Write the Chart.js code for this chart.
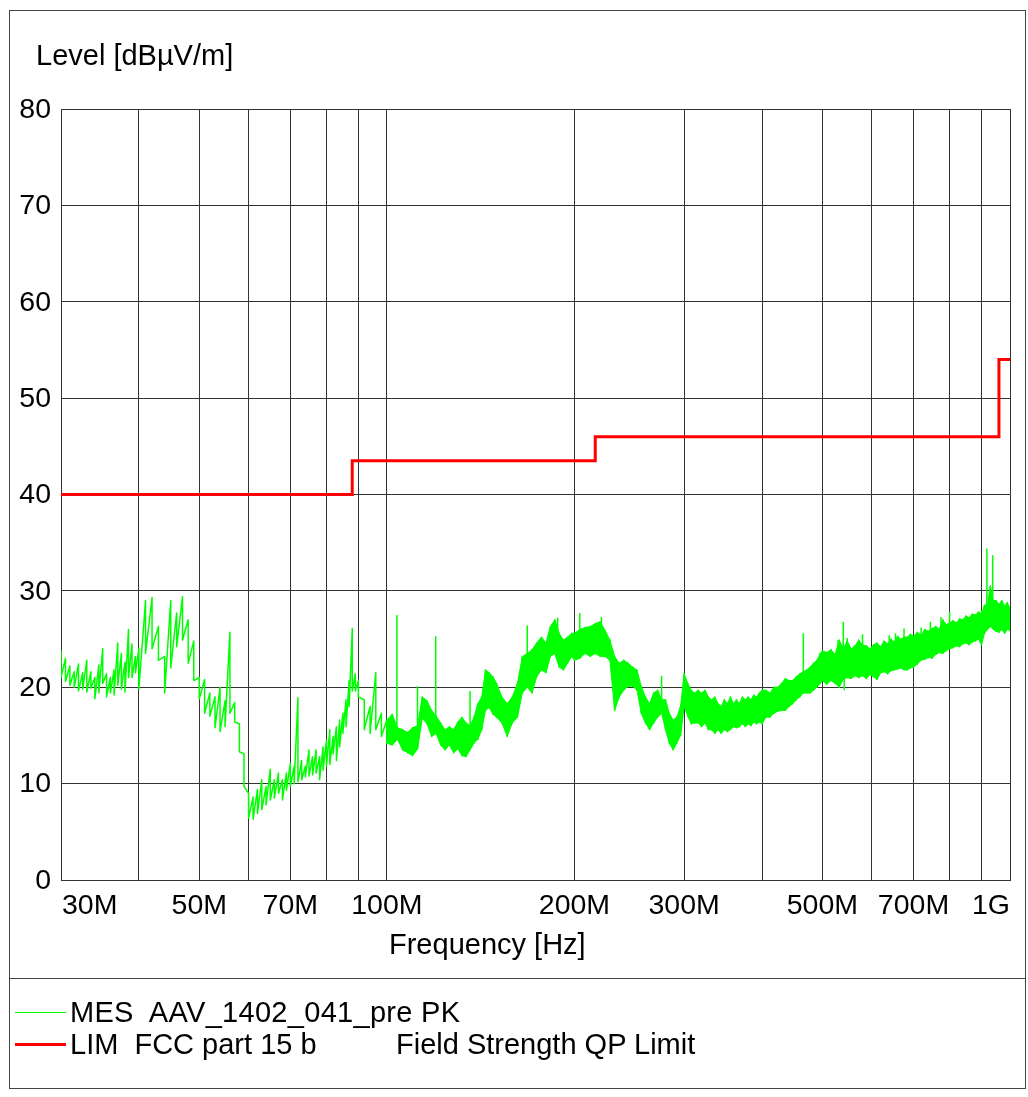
<!DOCTYPE html>
<html>
<head>
<meta charset="utf-8">
<script src="https://cdn.jsdelivr.net/npm/chart.js@4.4.1/dist/chart.umd.min.js"></script>
<style>
  body { margin: 0; background: #fff; font-family: "Liberation Sans", Arial, sans-serif; }
  #wrap { position: relative; width: 1028px; height: 1097px; }
  #frame { position: absolute; left: 9px; top: 10px; width: 1015px; height: 1077px; border: 1px solid #444; }
  #sep { position: absolute; left: 9px; top: 978px; width: 1017px; height: 1px; background: #444; }
  .txt { position: absolute; font-size: 29px; line-height: 28px; color: #000; white-space: pre; }
  .key { position: absolute; left: 15px; width: 51px; }
  canvas { position: absolute; left: 0; top: 0; }
</style>
</head>
<body>
<div id="wrap">
  <div id="frame"></div>
  <div id="sep"></div>
  <canvas id="emcChart" width="1028" height="1097"></canvas>
  <div class="txt" style="left:36px; top:41px;">Level [dBµV/m]</div>
  <div class="txt" style="left:389px; top:930px;">Frequency [Hz]</div>
  <div class="key" style="top:1012px; height:1px; background:#00ff00;"></div>
  <div class="txt" style="left:70px; top:998px; letter-spacing:0.3px;">MES  AAV_1402_041_pre PK</div>
  <div class="key" style="top:1043px; height:3px; background:#ff0000;"></div>
  <div class="txt" style="left:70px; top:1030px;">LIM  FCC part 15 b</div>
  <div class="txt" style="left:396px; top:1030px;">Field Strength QP Limit</div>
</div>
<script>
// Axis ticks / grid
const gridFreqs = [30, 40, 50, 60, 70, 80, 90, 100, 200, 300, 400, 500, 600, 700, 800, 900, 1000];
const xTickValues = [30, 50, 70, 100, 200, 300, 500, 700, 1000];
const xTickLabels = ['30M', '50M', '70M', '100M', '200M', '300M', '500M', '700M', '1G'];
const yTickValues = [0, 10, 20, 30, 40, 50, 60, 70, 80];

// Limit line (MHz, dBuV/m)
const limFreq = [30, 88, 88, 216, 216, 960, 960, 1000];
const limLevel = [40, 40, 43.5, 43.5, 46, 46, 54, 54];

const mesFreq = [
  30, 30.5, 31, 31.5, 32, 32.5, 33, 33.5, 34, 34.5, 35, 35.5, 36, 36.5, 37, 37.5, 38, 38.5, 39, 39.5, 40,
  41, 42, 43, 44, 45, 46, 47, 48, 49, 50, 51, 52, 53, 54, 55, 56, 57, 58, 59, 60,
  61, 62, 63, 64, 65, 66, 67, 68, 69, 70, 71, 72, 73, 74, 75, 76, 77, 78, 79, 80, 81, 82, 83, 84, 85, 86, 87, 88, 89, 90,
  92, 94, 96, 98, 100,
  102, 104, 106, 108, 110, 112, 114, 116, 118, 120, 122, 124, 126, 128, 130, 132, 134, 136, 138, 140, 142, 144, 146, 148, 150,
  153, 156, 159, 162, 165, 168, 171, 174, 177, 180, 183, 186, 189, 192, 195, 198,
  200, 204, 208, 212, 216, 220, 224, 228, 232, 236, 240, 244, 248, 252, 256, 260, 264, 268, 272, 276, 280, 284, 288, 292, 296, 300,
  304, 308, 312, 316, 320, 324, 328, 332, 336, 340, 344, 348, 352, 356, 360, 364, 368, 372, 376, 380, 384, 388, 392, 396, 400,
  406, 412, 418, 424, 430, 436, 442, 448, 454, 460, 466, 472, 478, 484, 490, 496, 500,
  508, 516, 524, 532, 540, 548, 556, 564, 572, 580, 588, 596, 604, 612, 620, 628, 636, 644, 652, 660, 668, 676, 684, 692, 700,
  710, 720, 730, 740, 750, 760, 770, 780, 790, 800, 810, 820, 830, 840, 850, 860, 870, 880, 890, 900, 910, 920, 930, 940, 950, 960, 970, 980, 990, 1000
];
const mesMax = [
  23.8, 23.0, 22.2, 21.6, 22.4, 21.5, 22.8, 21.6, 21.0, 22.3, 24.0, 21.4, 21.0, 21.8, 24.6, 23.5, 22.6, 26.0, 24.5, 23.2, 24.0,
  29.0, 29.3, 26.3, 23.2, 29.0, 27.7, 29.4, 27.0, 24.8, 21.0, 20.8, 19.4, 19.0, 20.0, 18.6, 25.7, 18.4, 16.2, 13.1, 9.0,
  8.6, 9.4, 10.4, 9.7, 11.5, 10.4, 11.1, 10.4, 11.1, 12.1, 11.8, 18.9, 12.4, 11.8, 13.5, 12.8, 13.5, 12.8, 13.8, 14.5, 15.6, 14.9, 15.9, 16.6, 17.3, 18.7, 20.7, 26.1, 21.4, 20.7,
  18.7, 18.0, 21.5, 17.3, 16.6,
  17.2, 15.8, 15.6, 15.3, 15.8, 16.0, 19.0, 18.6, 17.6, 17.0, 16.3, 15.6, 15.9, 15.6, 16.4, 16.9, 16.3, 16.0, 16.9, 18.3, 19.0, 21.8, 21.5, 21.1, 20.4,
  19.0, 18.3, 19.0, 20.4, 23.2, 23.5, 23.9, 24.6, 25.2, 24.6, 26.3, 27.0, 25.6, 24.9, 25.2, 25.6,
  25.6, 26.0, 26.2, 26.3, 26.6, 26.8, 25.9, 24.9, 23.2, 22.5, 22.8, 22.5, 22.1, 21.8, 20.1, 19.0, 18.3, 19.4, 19.7, 18.7, 18.7, 17.3, 16.6, 16.9, 18.0, 21.4,
  20.4, 19.7, 19.4, 19.7, 19.4, 19.7, 19.0, 18.7, 19.0, 18.3, 18.0, 18.7, 18.3, 19.0, 18.3, 18.7, 18.3, 19.0, 18.7, 19.0, 18.7, 19.2, 19.0, 19.4, 19.7,
  19.7, 19.4, 20.0, 20.0, 20.4, 20.9, 20.7, 20.7, 21.1, 21.4, 21.6, 21.8, 22.1, 22.5, 22.8, 23.5, 23.8,
  23.6, 23.9, 23.4, 24.9, 24.0, 24.8, 24.0, 24.3, 24.9, 24.4, 24.3, 24.0, 24.4, 24.6, 24.2, 24.8, 24.5, 25.0, 24.7, 25.3, 25.0, 25.2, 25.2, 25.5, 25.3,
  25.7, 25.4, 26.0, 25.8, 26.1, 26.3, 26.0, 27.0, 26.5, 26.7, 26.9, 26.7, 27.1, 27.0, 27.4, 27.2, 27.6, 27.5, 27.8, 27.6, 28.5, 28.6, 30.5, 29.0, 29.0, 28.6, 29.0, 28.4, 28.8, 28.2
];
const mesMin = [
  21.0, 20.6, 20.2, 20.0, 19.6, 19.8, 19.5, 19.9, 18.8, 19.4, 20.4, 19.0, 19.4, 19.2, 20.2, 19.8, 19.5, 21.0, 21.0, 21.5, 19.8,
  23.5, 24.0, 22.8, 19.4, 22.0, 24.2, 24.9, 22.5, 20.7, 18.8, 17.3, 17.0, 15.8, 15.4, 15.9, 17.3, 16.4, 13.3, 9.7, 6.4,
  6.3, 6.9, 7.3, 7.8, 8.3, 8.5, 9.0, 8.3, 9.3, 9.7, 10.0, 10.2, 10.4, 10.7, 10.8, 10.9, 11.1, 10.4, 11.4, 11.8, 12.0, 13.1, 12.4, 13.8, 15.2, 15.9, 18.0, 19.6, 19.6, 19.0,
  15.6, 15.2, 15.6, 14.9, 14.2,
  14.0, 14.6, 13.5, 13.2, 12.9, 13.6, 16.8, 16.2, 14.9, 15.2, 14.0, 13.5, 14.0, 13.2, 13.6, 12.9, 12.8, 13.5, 14.2, 14.6, 15.6, 17.6, 17.9, 17.2, 16.9,
  16.3, 14.9, 16.3, 16.9, 19.4, 20.0, 19.4, 21.1, 21.8, 21.5, 23.2, 23.5, 22.1, 21.8, 22.5, 23.2,
  22.8, 23.0, 23.5, 23.2, 23.5, 23.2, 23.2, 22.8, 17.6, 19.0, 19.7, 20.1, 20.1, 19.7, 17.3, 16.3, 15.6, 16.3, 16.9, 17.3, 15.6, 14.2, 13.5, 14.2, 15.0, 18.0,
  17.0, 16.2, 16.3, 16.3, 15.9, 16.3, 15.6, 15.6, 15.2, 15.6, 15.2, 15.6, 15.4, 15.6, 15.9, 15.8, 15.9, 16.2, 15.9, 16.2, 16.0, 16.4, 16.2, 16.4, 16.2,
  16.9, 16.9, 17.3, 17.5, 17.6, 17.6, 18.0, 18.3, 18.7, 19.0, 19.4, 19.4, 19.4, 19.7, 20.0, 20.4, 20.7,
  20.3, 20.7, 20.4, 20.0, 20.8, 21.0, 20.9, 21.2, 21.0, 21.2, 20.9, 21.3, 21.1, 20.8, 21.5, 21.6, 21.4, 21.7, 21.8, 21.9, 22.0, 21.8, 21.8, 22.0, 22.1,
  22.4, 22.8, 22.9, 23.1, 23.0, 23.4, 23.6, 23.5, 23.8, 24.0, 24.1, 24.3, 24.2, 24.5, 24.6, 24.4, 24.7, 24.8, 25.0, 24.4, 25.6, 26.0, 26.3, 26.0, 25.8, 25.7, 26.0, 25.6, 26.0, 25.9
];

// Narrow single-line spikes off the dense band (MHz, start level, tip level)
const spikeFreq = [103.8, 112, 119.8, 136, 168, 188, 204, 221, 276, 436, 466, 530, 540, 542, 548, 580, 640, 655, 676, 720, 745, 775, 800, 900, 918, 938];
const spikeBase = [15.0, 15.5, 16.0, 15.5, 22.5, 25.0, 25.5, 26.0, 18.0, 19.5, 20.5, 23.5, 23.5, 21.0, 24.0, 23.5, 24.5, 24.5, 24.5, 25.0, 25.5, 26.0, 26.5, 27.0, 27.0, 27.5];
const spikeTop = [27.5, 20.1, 25.3, 19.6, 26.4, 27.2, 27.7, 27.3, 21.2, 20.9, 25.6, 24.9, 26.8, 19.7, 25.1, 25.5, 25.4, 25.6, 26.1, 26.2, 26.8, 27.3, 27.8, 28.0, 34.4, 33.7];

// above this frequency the trace is so dense it reads as a solid band
const bandStart = 100;

// zigzag max -> min at every frequency gives the noisy receiver trace
const mesPoints = [];
mesFreq.forEach((f, i) => {
    mesPoints.push({ x: f, y: mesMax[i] }, { x: f, y: mesMin[i] });
});
const bandTop = [], bandBottom = [];
mesFreq.forEach((f, i) => {
    if (f >= bandStart) {
        bandTop.push({ x: f, y: mesMax[i] });
        bandBottom.push({ x: f, y: mesMin[i] });
    }
});
const spikePoints = [];
spikeFreq.forEach((f, i) => {
    spikePoints.push({ x: f, y: spikeBase[i] }, { x: f, y: spikeTop[i] }, { x: f, y: null });
});
const limPoints = limFreq.map((f, i) => ({ x: f, y: limLevel[i] }));

const FONT = '"Liberation Sans", Arial, sans-serif';
const GREEN = '#00ff00';

// tick labels drawn from the scales (first label left aligned, last right aligned)
const tickLabelPlugin = {
    id: 'tickLabels',
    afterDraw(chart) {
        const { ctx, scales: { x, y } } = chart;
        ctx.save();
        ctx.fillStyle = '#000';
        ctx.font = '28.5px ' + FONT;
        ctx.textBaseline = 'middle';
        ctx.textAlign = 'right';
        yTickValues.forEach(v => ctx.fillText(String(v), x.left - 10, y.getPixelForValue(v) + 1));
        xTickValues.forEach((v, i) => {
            const last = xTickValues.length - 1;
            ctx.textAlign = i === 0 ? 'left' : (i === last ? 'right' : 'center');
            ctx.fillText(xTickLabels[i], x.getPixelForValue(v) + (i === 0 ? 1 : 0), y.bottom + 26);
        });
        ctx.restore();
    }
};

const gridStyle = { color: '#333', lineWidth: 1, drawTicks: false };

new Chart(document.getElementById('emcChart'), {
    type: 'line',
    data: {
        datasets: [{
            label: 'LIM  FCC part 15 b',
            data: limPoints,
            borderColor: '#ff0000',
            borderWidth: 3,
            pointRadius: 0,
            fill: false,
            tension: 0,
            order: 0
        }, {
            label: 'MES  AAV_1402_041_pre PK',
            data: mesPoints,
            borderColor: GREEN,
            borderWidth: 1.5,
            borderJoinStyle: 'round',
            pointRadius: 0,
            fill: false,
            tension: 0,
            order: 1
        }, {
            label: 'spikes',
            data: spikePoints,
            borderColor: GREEN,
            borderWidth: 1.5,
            pointRadius: 0,
            spanGaps: false,
            fill: false,
            order: 1
        }, {
            label: 'band top',
            data: bandTop,
            borderColor: GREEN,
            borderWidth: 1,
            backgroundColor: GREEN,
            pointRadius: 0,
            tension: 0,
            fill: '+1',
            order: 2
        }, {
            label: 'band bottom',
            data: bandBottom,
            borderColor: GREEN,
            borderWidth: 1,
            pointRadius: 0,
            tension: 0,
            fill: false,
            order: 2
        }]
    },
    options: {
        responsive: false,
        animation: false,
        devicePixelRatio: 1,
        layout: { padding: { left: 61, top: 109, right: 18, bottom: 217 } },
        plugins: {
            legend: { display: false },
            tooltip: { enabled: false },
            filler: { propagate: false }
        },
        scales: {
            x: {
                type: 'logarithmic',
                min: 30,
                max: 1000,
                afterBuildTicks: s => { s.ticks = gridFreqs.map(v => ({ value: v })); },
                ticks: { display: false },
                grid: gridStyle,
                border: { display: true, color: '#333', width: 1 }
            },
            y: {
                type: 'linear',
                min: 0,
                max: 80,
                afterBuildTicks: s => { s.ticks = yTickValues.map(v => ({ value: v })); },
                ticks: { display: false },
                grid: gridStyle,
                border: { display: true, color: '#333', width: 1 }
            }
        }
    },
    plugins: [tickLabelPlugin]
});
</script>
</body>
</html>
